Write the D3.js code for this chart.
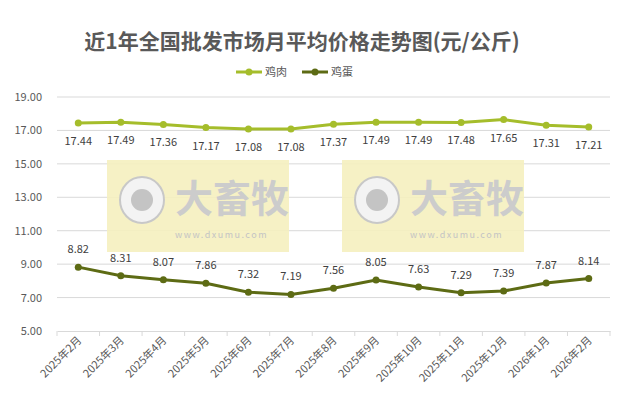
<!DOCTYPE html>
<html><head><meta charset="utf-8">
<script src="https://cdn.jsdelivr.net/npm/d3@7"></script>
<style>body{margin:0;background:#fff}text{font-family:"Noto Sans CJK SC","Noto Sans",sans-serif}</style>
</head><body><div id="chart"></div>
<script>
var months = ["2025年2月","2025年3月","2025年4月","2025年5月","2025年6月","2025年7月","2025年8月","2025年9月","2025年10月","2025年11月","2025年12月","2026年1月","2026年2月"];
var chicken = [17.44,17.49,17.36,17.17,17.08,17.08,17.37,17.49,17.49,17.48,17.65,17.31,17.21];
var egg = [8.82,8.31,8.07,7.86,7.32,7.19,7.56,8.05,7.63,7.29,7.39,7.87,8.14];
var yTicks = [5,7,9,11,13,15,17,19];

var W = 628, H = 402;
var margin = {top: 97, right: 18, bottom: 71, left: 57};
var width = W - margin.left - margin.right, height = H - margin.top - margin.bottom;

var svg = d3.select("#chart").append("svg").attr("width", W).attr("height", H);

svg.append("text").attr("x", 302).attr("y", 49).attr("text-anchor", "middle")
  .attr("font-size", 21).attr("font-weight", "bold").attr("fill", "#595959")
  .text("近1年全国批发市场月平均价格走势图(元/公斤)");

var g = svg.append("g").attr("transform", "translate(" + margin.left + "," + margin.top + ")");
var x = d3.scaleBand().domain(months).range([0, width]);
var y = d3.scaleLinear().domain([5, 19]).range([height, 0]);

// gridlines
g.selectAll(".grid").data(yTicks.slice(1)).enter().append("line")
  .attr("x1", 0).attr("x2", width).attr("y1", d => y(d)).attr("y2", d => y(d))
  .attr("stroke", "#d9d9d9");

// watermarks
[[107, 160], [342, 160]].forEach(function (p) {
  var w = svg.append("g").attr("transform", "translate(" + p[0] + "," + p[1] + ")");
  w.append("rect").attr("width", 182).attr("height", 92).attr("fill", "#f5f0bf").attr("opacity", 0.9);
  w.append("ellipse").attr("cx", 35).attr("cy", 40).attr("rx", 22).attr("ry", 23).attr("fill", "#f3f3f3").attr("stroke", "#c8c8c8").attr("stroke-width", 2);
  w.append("circle").attr("cx", 35).attr("cy", 40).attr("r", 11).attr("fill", "#c4c4c4");
  w.append("text").attr("x", 68).attr("y", 52).attr("font-size", 38).attr("font-weight", "bold").attr("fill", "#cccccc").text("大畜牧");
  w.append("text").attr("x", 68).attr("y", 78).attr("font-size", 9).attr("fill", "#c4c4c4").attr("letter-spacing", 1.5).text("www.dxumu.com");
});

// y axis labels
g.selectAll(".yl").data(yTicks).enter().append("text")
  .attr("x", -15).attr("y", d => y(d) + 4).attr("text-anchor", "end")
  .attr("font-size", 11).attr("fill", "#595959").text(d => d.toFixed(2));

// x axis
var xa = g.append("g").attr("transform", "translate(0," + height + ")")
  .call(d3.axisBottom(x).tickSize(0).tickFormat(""));
xa.select(".domain").attr("stroke", "#d9d9d9");
g.selectAll(".xt").data(months.concat([null])).enter().append("line")
  .attr("x1", (d, i) => i * x.bandwidth()).attr("x2", (d, i) => i * x.bandwidth())
  .attr("y1", height).attr("y2", height + 5).attr("stroke", "#d9d9d9");
g.selectAll(".xl").data(months).enter().append("text")
  .attr("transform", d => "translate(" + (x(d) + x.bandwidth() / 2 + 4) + "," + (height + 10) + ") rotate(-45)")
  .attr("text-anchor", "end").attr("font-size", 11).attr("fill", "#595959").text(d => d);

var cx = d => x(d) + x.bandwidth() / 2;
function series(vals, color, labelDy) {
  var line = d3.line().x((d, i) => cx(months[i])).y(d => y(d));
  g.append("path").datum(vals).attr("d", line).attr("fill", "none").attr("stroke", color).attr("stroke-width", 3);
  g.selectAll(null).data(vals).enter().append("circle")
    .attr("cx", (d, i) => cx(months[i])).attr("cy", d => y(d)).attr("r", 3.5).attr("fill", color);
  g.selectAll(null).data(vals).enter().append("text")
    .attr("x", (d, i) => cx(months[i])).attr("y", d => y(d) + labelDy).attr("text-anchor", "middle")
    .attr("font-size", 11).attr("fill", "#404040").text(d => d.toFixed(2));
}
series(chicken, "#a5bd2b", 22);
series(egg, "#5d6b14", -14);

// legend
var lg = svg.append("g").attr("transform", "translate(236,72)");
[["鸡肉", "#a5bd2b"], ["鸡蛋", "#5d6b14"]].forEach(function (l, i) {
  var o = lg.append("g").attr("transform", "translate(" + i * 66 + ",0)");
  o.append("line").attr("x1", 0).attr("x2", 26).attr("stroke", l[1]).attr("stroke-width", 3);
  o.append("circle").attr("cx", 13).attr("r", 3.5).attr("fill", l[1]);
  o.append("text").attr("x", 29).attr("y", 4).attr("font-size", 11).attr("fill", "#595959").text(l[0]);
});
</script></body></html>
